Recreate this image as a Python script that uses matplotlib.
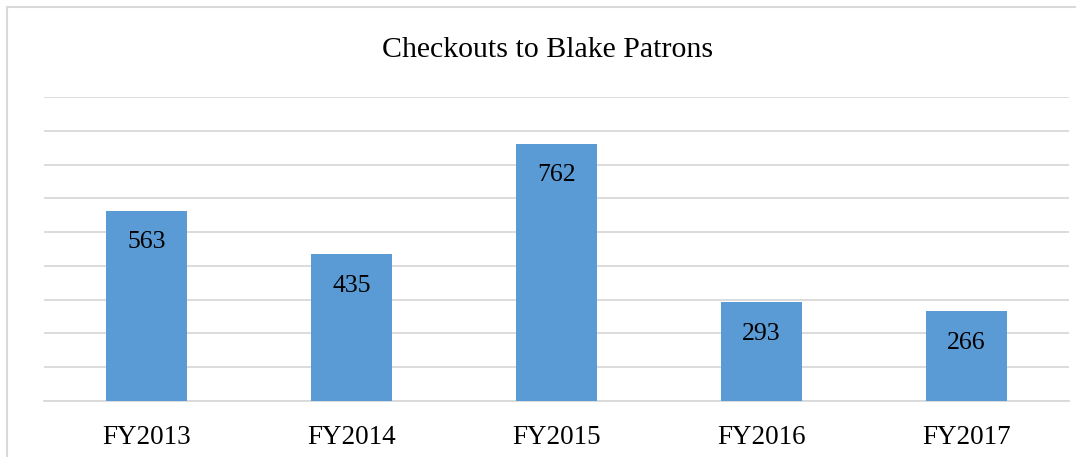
import numpy as np
import matplotlib.pyplot as plt
from matplotlib.patches import Rectangle

years = ['FY2013', 'FY2014', 'FY2015', 'FY2016', 'FY2017']
checkouts = [563, 435, 762, 293, 266]

plt.rcParams['font.family'] = ['Liberation Serif', 'DejaVu Serif']

fig = plt.figure(figsize=(10.76, 4.57), dpi=100)
ax = fig.add_axes([44 / 1076, 1 - 401 / 457, 1025 / 1076, 304 / 457])

x = np.arange(len(years))
ax.bar(x, checkouts, width=0.395, color='#5b9bd5', zorder=3)
for xi, v in zip(x, checkouts):
    ax.annotate(str(v), (xi, v), xytext=(0, -27), textcoords='offset points',
                ha='center', va='baseline', fontsize=18.5, zorder=4)

ax.set_xlim(-0.5, len(years) - 0.5)
ax.set_ylim(0, 900)
ax.set_yticks(np.arange(0, 901, 100))
ax.set_yticklabels([])
ax.tick_params(axis='y', length=0)
ax.set_xticks(x)
ax.set_xticklabels(years, fontsize=19.5)
ax.tick_params(axis='x', length=0, pad=17)
ax.grid(axis='y', color='#d9d9d9', linewidth=1.3, zorder=0)
for s in ['top', 'right', 'left']:
    ax.spines[s].set_visible(False)
ax.spines['bottom'].set_color('#d9d9d9')
ax.spines['bottom'].set_linewidth(1.3)

fig.text(548 / 1076, 1 - 57 / 457, 'Checkouts to Blake Patrons',
         ha='center', va='baseline', fontsize=21.5)

# chart border (cut off at right and bottom)
fig.patches.append(Rectangle((7 / 1076, -0.1), 1.2, 1 - 7 / 457 + 0.1,
                             transform=fig.transFigure, fill=False,
                             edgecolor='#d9d9d9', linewidth=1.5))

plt.savefig('out.png')
plt.close()
